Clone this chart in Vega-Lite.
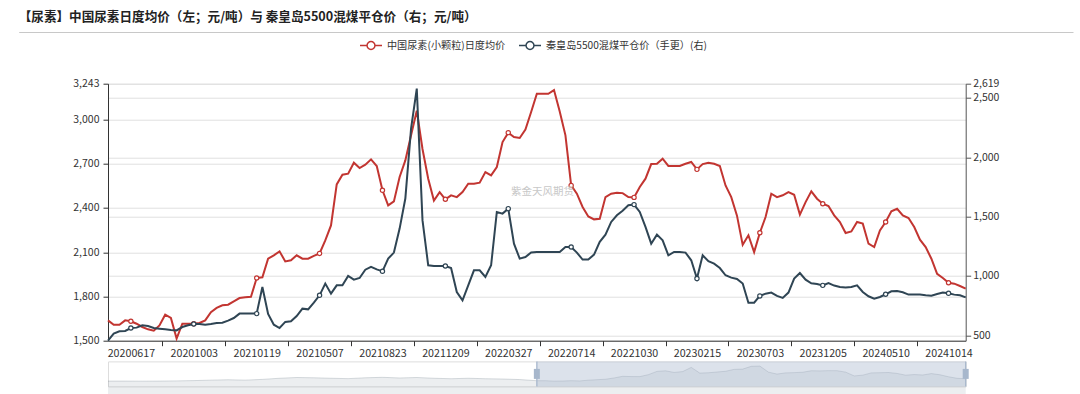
{
  "$schema": "https://vega.github.io/schema/vega-lite/v6.json",
  "background": "white",
  "padding": {"left": 18, "top": 11, "right": 0, "bottom": 0},
  "bounds": "flush",
  "spacing": 20.7,
  "config": {
    "view": {"stroke": null},
    "font": "Noto Sans CJK SC",
    "axis": {"labelFont": "Noto Sans CJK SC"},
    "legend": {"labelFont": "Noto Sans CJK SC"},
    "title": {"font": "Noto Sans CJK SC"},
    "text": {"font": "Noto Sans CJK SC"}
  },
  "datasets": {
    "m": [
      {"d":"20200508","u":1638,"c":456},{"d":"20200518","u":1608,"c":514},{"d":"20200528","u":1608,"c":534},{"d":"20200607","u":1638,"c":537},
      {"d":"20200617","u":1632,"c":562},{"d":"20200627","u":1615,"c":565},{"d":"20200707","u":1593,"c":585},{"d":"20200717","u":1577,"c":579},
      {"d":"20200727","u":1568,"c":562},{"d":"20200806","u":1604,"c":556},{"d":"20200816","u":1676,"c":551},{"d":"20200826","u":1654,"c":545},
      {"d":"20200905","u":1515,"c":542},{"d":"20200914","u":1615,"c":570},{"d":"20200924","u":1615,"c":585},{"d":"20201003","u":1615,"c":596},
      {"d":"20201013","u":1620,"c":596},{"d":"20201023","u":1638,"c":590},{"d":"20201102","u":1694,"c":596},{"d":"20201112","u":1722,"c":604},
      {"d":"20201122","u":1740,"c":607},{"d":"20201202","u":1744,"c":624},{"d":"20201212","u":1767,"c":646},{"d":"20201222","u":1789,"c":683},
      {"d":"20210101","u":1794,"c":683},{"d":"20210110","u":1798,"c":683},{"d":"20210119","u":1925,"c":683},{"d":"20210129","u":1930,"c":907},
      {"d":"20210208","u":2056,"c":680},{"d":"20210218","u":2079,"c":590},{"d":"20210228","u":2106,"c":562},{"d":"20210310","u":2038,"c":613},
      {"d":"20210320","u":2045,"c":618},{"d":"20210330","u":2079,"c":663},{"d":"20210409","u":2056,"c":725},{"d":"20210419","u":2056,"c":719},
      {"d":"20210428","u":2075,"c":775},{"d":"20210507","u":2092,"c":837},{"d":"20210517","u":2180,"c":936},{"d":"20210527","u":2282,"c":851},
      {"d":"20210606","u":2560,"c":921},{"d":"20210616","u":2626,"c":921},{"d":"20210626","u":2633,"c":1000},{"d":"20210706","u":2707,"c":969},
      {"d":"20210716","u":2671,"c":983},{"d":"20210726","u":2694,"c":1053},{"d":"20210805","u":2730,"c":1076},{"d":"20210814","u":2685,"c":1056},
      {"d":"20210823","u":2520,"c":1039},{"d":"20210902","u":2418,"c":1146},{"d":"20210912","u":2445,"c":1197},{"d":"20210922","u":2610,"c":1399},
      {"d":"20211002","u":2723,"c":1652},{"d":"20211012","u":2893,"c":2241},{"d":"20211022","u":3060,"c":2578},{"d":"20211101","u":2800,"c":1470},
      {"d":"20211111","u":2599,"c":1090},{"d":"20211121","u":2450,"c":1084},{"d":"20211130","u":2508,"c":1084},{"d":"20211209","u":2459,"c":1084},
      {"d":"20211219","u":2486,"c":1067},{"d":"20211229","u":2474,"c":865},{"d":"20220108","u":2508,"c":795},{"d":"20220118","u":2565,"c":921},
      {"d":"20220128","u":2565,"c":1048},{"d":"20220207","u":2572,"c":1048},{"d":"20220217","u":2644,"c":992},{"d":"20220227","u":2621,"c":1090},
      {"d":"20220309","u":2678,"c":1539},{"d":"20220318","u":2847,"c":1525},{"d":"20220327","u":2911,"c":1567},{"d":"20220406","u":2881,"c":1272},
      {"d":"20220416","u":2875,"c":1146},{"d":"20220426","u":2932,"c":1160},{"d":"20220506","u":3051,"c":1197},{"d":"20220516","u":3175,"c":1202},
      {"d":"20220526","u":3175,"c":1202},{"d":"20220605","u":3175,"c":1202},{"d":"20220615","u":3200,"c":1202},{"d":"20220625","u":3055,"c":1202},
      {"d":"20220705","u":2893,"c":1244},{"d":"20220714","u":2553,"c":1244},{"d":"20220724","u":2497,"c":1197},{"d":"20220803","u":2407,"c":1138},
      {"d":"20220813","u":2343,"c":1138},{"d":"20220823","u":2323,"c":1180},{"d":"20220902","u":2327,"c":1287},{"d":"20220912","u":2474,"c":1348},
      {"d":"20220922","u":2497,"c":1455},{"d":"20221002","u":2504,"c":1511},{"d":"20221012","u":2501,"c":1550},{"d":"20221021","u":2474,"c":1595},
      {"d":"20221030","u":2472,"c":1601},{"d":"20221109","u":2542,"c":1539},{"d":"20221119","u":2599,"c":1413},{"d":"20221129","u":2698,"c":1272},
      {"d":"20221209","u":2700,"c":1348},{"d":"20221219","u":2734,"c":1300},{"d":"20221229","u":2685,"c":1174},{"d":"20230108","u":2685,"c":1202},
      {"d":"20230118","u":2685,"c":1202},{"d":"20230128","u":2700,"c":1197},{"d":"20230206","u":2712,"c":1132},{"d":"20230215","u":2662,"c":978},
      {"d":"20230228","u":2698,"c":1174},{"d":"20230312","u":2707,"c":1124},{"d":"20230325","u":2700,"c":1104},{"d":"20230406","u":2685,"c":1067},
      {"d":"20230419","u":2553,"c":1006},{"d":"20230501","u":2474,"c":986},{"d":"20230514","u":2348,"c":975},{"d":"20230526","u":2150,"c":936},
      {"d":"20230608","u":2215,"c":775},{"d":"20230620","u":2101,"c":775},{"d":"20230703","u":2232,"c":832},{"d":"20230717","u":2339,"c":851},
      {"d":"20230731","u":2497,"c":860},{"d":"20230814","u":2474,"c":832},{"d":"20230828","u":2486,"c":815},{"d":"20230911","u":2508,"c":860},
      {"d":"20230925","u":2490,"c":978},{"d":"20231009","u":2355,"c":1025},{"d":"20231023","u":2440,"c":969},{"d":"20231106","u":2513,"c":938},
      {"d":"20231120","u":2463,"c":933},{"d":"20231205","u":2429,"c":921},{"d":"20231219","u":2413,"c":941},{"d":"20240102","u":2350,"c":919},
      {"d":"20240116","u":2305,"c":907},{"d":"20240130","u":2230,"c":902},{"d":"20240213","u":2241,"c":907},{"d":"20240227","u":2305,"c":921},
      {"d":"20240312","u":2294,"c":865},{"d":"20240326","u":2158,"c":829},{"d":"20240410","u":2135,"c":809},{"d":"20240425","u":2248,"c":823},
      {"d":"20240510","u":2305,"c":846},{"d":"20240524","u":2377,"c":871},{"d":"20240607","u":2395,"c":873},{"d":"20240621","u":2350,"c":863},
      {"d":"20240705","u":2332,"c":843},{"d":"20240719","u":2271,"c":843},{"d":"20240802","u":2185,"c":843},{"d":"20240816","u":2135,"c":837},
      {"d":"20240830","u":2056,"c":834},{"d":"20240914","u":1954,"c":848},{"d":"20240929","u":1925,"c":860},{"d":"20241014","u":1893,"c":854},
      {"d":"20241028","u":1887,"c":843},{"d":"20241111","u":1871,"c":837},{"d":"20241125","u":1853,"c":820}
    ],
    "s": [
      {"n":0,"v":1600},{"n":2,"v":1600},{"n":4,"v":1590},{"n":6,"v":1600},{"n":8,"v":1620},{"n":10,"v":1650},{"n":12,"v":1700},
      {"n":14,"v":1740},{"n":16,"v":1700},{"n":18,"v":1780},{"n":20,"v":1900},{"n":22,"v":1980},{"n":24,"v":1950},{"n":26,"v":1900},
      {"n":28,"v":1860},{"n":30,"v":1950},{"n":32,"v":2000},{"n":34,"v":1930},{"n":36,"v":1980},{"n":38,"v":1900},{"n":40,"v":1850},
      {"n":42,"v":1900},{"n":44,"v":1850},{"n":46,"v":1820},{"n":48,"v":1760},
      {"n":50,"v":1638},{"n":51,"v":1638},{"n":52,"v":1593},{"n":53,"v":1604},{"n":54,"v":1640},{"n":55,"v":1615},{"n":56,"v":1694},
      {"n":57,"v":1744},{"n":58,"v":1794},{"n":59,"v":1930},{"n":60,"v":2106},{"n":61,"v":2079},{"n":62,"v":2075},{"n":63,"v":2282},
      {"n":64,"v":2633},{"n":65,"v":2694},{"n":66,"v":2520},{"n":67,"v":2610},{"n":68,"v":3060},{"n":69,"v":2450},{"n":70,"v":2486},
      {"n":71,"v":2565},{"n":72,"v":2644},{"n":73,"v":2847},{"n":74,"v":2875},{"n":75,"v":3175},{"n":76,"v":3200},{"n":77,"v":2553},
      {"n":78,"v":2343},{"n":79,"v":2474},{"n":80,"v":2501},{"n":81,"v":2542},{"n":82,"v":2700},{"n":83,"v":2685},{"n":84,"v":2712},
      {"n":85,"v":2707},{"n":86,"v":2553},{"n":87,"v":2150},{"n":88,"v":2232},{"n":89,"v":2474},{"n":90,"v":2490},{"n":91,"v":2513},
      {"n":92,"v":2413},{"n":93,"v":2230},{"n":94,"v":2294},{"n":95,"v":2248},{"n":96,"v":2395},{"n":97,"v":2271},{"n":98,"v":2056},
      {"n":99,"v":1893},{"n":100,"v":1853}
    ]
  },
  "vconcat": [
    {
      "width": 965,
      "height": 30.8,
      "title": {"text": "【尿素】中国尿素日度均价（左；元/吨）与 秦皇岛5500混煤平仓价（右；元/吨）", "anchor": "start", "frame": "bounds", "offset": 8, "fontSize": 12.6, "fontWeight": "bold", "color": "#222222"},
      "data": {"values": [{"a": 0}]},
      "mark": {"type": "point", "opacity": 0, "size": 0},
      "encoding": {
        "x": {"field": "a", "type": "quantitative", "scale": {"domain": [0, 1], "range": [-89.3, 965]},
              "axis": {"orient": "top", "labels": false, "ticks": false, "grid": false, "title": null, "domainColor": "#c8c8c8", "domainWidth": 1}}
      }
    },
    {
      "width": 857.7,
      "height": 257,
      "data": {"name": "m"},
      "layer": [
        {
          "layer": [
            {
              "mark": {"type": "line", "strokeWidth": 2},
              "encoding": {
                "x": {"field": "d", "type": "ordinal", "scale": {"type": "point", "padding": 0},
                      "axis": {"values": ["20200617","20201003","20210119","20210507","20210823","20211209","20220327","20220714","20221030","20230215","20230703","20231205","20240510","20241014"],
                               "title": null, "labelAngle": 0, "labelFontSize": 10.7, "labelColor": "#333333", "labelPadding": 3, "tickSize": 5,
                               "tickColor": {"condition": {"test": "datum.value === '20241014'", "value": "transparent"}, "value": "#333333"},
                               "tickOffset": 31.45, "labelOffset": -31.45, "domainColor": "#333333", "grid": false, "labelOverlap": false}},
                "y": {"field": "u", "type": "quantitative", "scale": {"domain": [1500, 3243], "nice": false, "zero": false},
                      "axis": {"orient": "left", "values": [1500,1800,2100,2400,2700,3000,3243], "format": ",d", "title": null, "grid": true, "gridColor": "#e0e0e0",
                               "domainColor": "#333333", "tickColor": "#333333", "tickSize": 5, "labelPadding": 4, "labelFontSize": 10.5, "labelColor": "#333333",
                               "labelOverlap": false, "labelFlush": false, "labelBound": false}},
                "color": {"datum": "中国尿素(小颗粒)日度均价",
                          "scale": {"domain": ["中国尿素(小颗粒)日度均价", "秦皇岛5500混煤平仓价（手更）(右)"], "range": ["#c23531", "#2f4554"]},
                          "legend": {"orient": "none", "legendX": 251, "legendY": 1.5, "direction": "horizontal", "title": null,
                                     "symbolType": "M-1,0L-0.36,0M0.36,0L1,0M0.36,0A0.36,0.36,0,1,1,-0.36,0A0.36,0.36,0,1,1,0.36,0",
                                     "symbolSize": 484, "symbolStrokeWidth": 1.5, "symbolFillColor": "#ffffff",
                                     "labelFontSize": 10.15, "labelColor": "#333333", "labelLimit": 400, "columnPadding": 10, "labelOffset": 4}}
              }
            },
            {
              "transform": [{"filter": {"field": "d", "oneOf": ["20200617","20201003","20210119","20210507","20210823","20211209","20220327","20220714","20221030","20230215","20230703","20231205","20240510","20241014"]}}],
              "mark": {"type": "point", "filled": true, "fill": "#ffffff", "stroke": "#c23531", "strokeWidth": 1.2, "size": 18, "opacity": 1},
              "encoding": {"x": {"field": "d", "type": "ordinal"}, "y": {"field": "u", "type": "quantitative"}}
            },
            {
              "data": {"values": [{"d": "20220526", "t": "紫金天风期货"}]},
              "mark": {"type": "text", "color": "#c8c8c8", "fontSize": 10.5},
              "encoding": {"x": {"field": "d", "type": "ordinal"}, "y": {"datum": 2510}, "text": {"field": "t"}}
            }
          ]
        },
        {
          "layer": [
            {
              "mark": {"type": "line", "strokeWidth": 2},
              "encoding": {
                "x": {"field": "d", "type": "ordinal"},
                "y": {"field": "c", "type": "quantitative", "scale": {"domain": [455, 2619], "nice": false, "zero": false},
                      "axis": {"orient": "right", "values": [500,1000,1500,2000,2500,2619], "format": ",d", "title": null, "grid": true, "gridColor": "#e0e0e0",
                               "domainColor": "#555555", "tickColor": "#555555", "tickSize": 5, "labelPadding": 2, "labelFontSize": 10.5, "labelColor": "#333333",
                               "labelOverlap": false, "labelFlush": false, "labelBound": false}},
                "color": {"datum": "秦皇岛5500混煤平仓价（手更）(右)"}
              }
            },
            {
              "transform": [{"filter": {"field": "d", "oneOf": ["20200617","20201003","20210119","20210507","20210823","20211209","20220327","20220714","20221030","20230215","20230703","20231205","20240510","20241014"]}}],
              "mark": {"type": "point", "filled": true, "fill": "#ffffff", "stroke": "#2f4554", "strokeWidth": 1.2, "size": 18, "opacity": 1},
              "encoding": {"x": {"field": "d", "type": "ordinal"}, "y": {"field": "c", "type": "quantitative"}}
            }
          ]
        }
      ],
      "resolve": {"scale": {"y": "independent"}}
    },
    {
      "width": 857.7,
      "height": 25,
      "view": {"stroke": "#dddddd"},
      "layer": [
        {
          "data": {"name": "s"},
          "mark": {"type": "area", "color": "#2f4554", "opacity": 0.09, "line": {"color": "#2f4554", "strokeWidth": 0.6, "opacity": 0.3}},
          "encoding": {
            "x": {"field": "n", "type": "quantitative", "scale": {"domain": [0, 100], "nice": false, "zero": false}, "axis": null},
            "y": {"field": "v", "type": "quantitative", "scale": {"domain": [1030, 3700], "nice": false, "zero": false}, "axis": null}
          }
        },
        {
          "data": {"values": [{}]},
          "mark": {"type": "rect", "color": "#a7b7cc", "opacity": 0.4},
          "encoding": {"x": {"datum": 50}, "x2": {"datum": 100}}
        },
        {
          "data": {"values": [{}]},
          "mark": {"type": "rule", "color": "#a7b7cc", "strokeWidth": 1.3},
          "encoding": {"x": {"datum": 50}}
        },
        {
          "data": {"values": [{}]},
          "mark": {"type": "rule", "color": "#a7b7cc", "strokeWidth": 1.3},
          "encoding": {"x": {"datum": 100}}
        },
        {
          "data": {"values": [{}]},
          "mark": {"type": "tick", "orient": "vertical", "color": "#a7b7cc", "size": 10, "thickness": 6, "opacity": 1},
          "encoding": {"x": {"datum": 50}}
        },
        {
          "data": {"values": [{}]},
          "mark": {"type": "tick", "orient": "vertical", "color": "#a7b7cc", "size": 10, "thickness": 6, "opacity": 1},
          "encoding": {"x": {"datum": 100}}
        }
      ]
    }
  ]
}
